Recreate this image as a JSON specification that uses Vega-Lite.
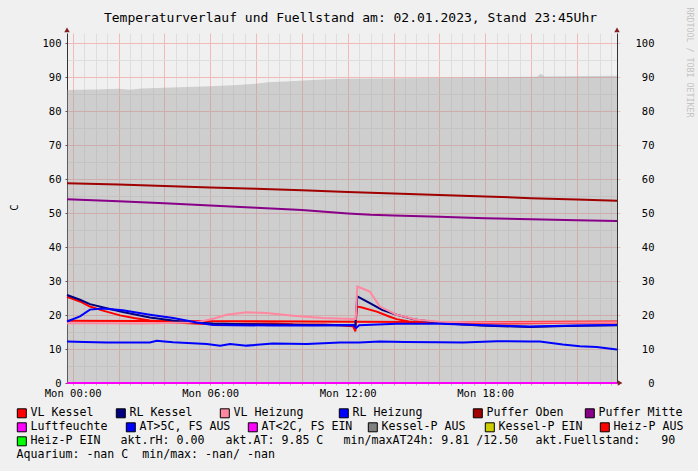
{
  "$schema": "https://vega.github.io/schema/vega-lite/v6.json",
  "width": 550,
  "height": 350,
  "autosize": "none",
  "padding": {"left": 67, "top": 33, "right": 81, "bottom": 88},
  "background": "#f0f0f0",
  "config": {
    "font": "DejaVu Sans Mono",
    "view": {"stroke": null, "fill": "#ffffff"},
    "axis": {"labelFont": "DejaVu Sans Mono", "titleFont": "DejaVu Sans Mono", "labelFontSize": 10.5, "labelColor": "#000000", "titleFontWeight": "normal", "titleColor": "#000000", "labelOverlap": false},
    "legend": {"labelFont": "DejaVu Sans Mono", "labelFontSize": 11.6, "labelColor": "#000000", "labelLimit": 400, "orient": "none", "direction": "horizontal", "padding": 0, "symbolType": "square", "symbolSize": 81, "symbolStrokeColor": "#000000", "symbolStrokeWidth": 1, "symbolOpacity": 1, "labelOffset": 3}
  },
  "datasets": {
    "fuel": [
      {"t": "2023-01-01T23:45", "v": 86.2},
      {"t": "2023-01-02T01:00", "v": 86.4},
      {"t": "2023-01-02T02:00", "v": 86.6},
      {"t": "2023-01-02T02:30", "v": 86.3},
      {"t": "2023-01-02T03:00", "v": 86.7},
      {"t": "2023-01-02T04:00", "v": 86.9},
      {"t": "2023-01-02T05:00", "v": 87.1},
      {"t": "2023-01-02T06:00", "v": 87.3},
      {"t": "2023-01-02T07:00", "v": 87.6},
      {"t": "2023-01-02T08:00", "v": 88.1},
      {"t": "2023-01-02T08:30", "v": 88.5},
      {"t": "2023-01-02T09:30", "v": 88.8},
      {"t": "2023-01-02T10:15", "v": 89.1},
      {"t": "2023-01-02T11:40", "v": 89.5},
      {"t": "2023-01-02T13:00", "v": 89.6},
      {"t": "2023-01-02T14:30", "v": 89.7},
      {"t": "2023-01-02T16:00", "v": 89.8},
      {"t": "2023-01-02T18:00", "v": 90.0},
      {"t": "2023-01-02T20:15", "v": 90.1},
      {"t": "2023-01-02T20:26", "v": 91.0},
      {"t": "2023-01-02T20:35", "v": 90.2},
      {"t": "2023-01-02T22:00", "v": 90.3},
      {"t": "2023-01-02T23:45", "v": 90.4}
    ],
    "r1": [
      {"s": "VL Kessel", "t": "2023-01-01T23:45", "v": 25.4},
      {"s": "VL Kessel", "t": "2023-01-02T00:19", "v": 24.0},
      {"s": "VL Kessel", "t": "2023-01-02T00:45", "v": 22.5},
      {"s": "VL Kessel", "t": "2023-01-02T01:19", "v": 21.3},
      {"s": "VL Kessel", "t": "2023-01-02T02:04", "v": 19.9},
      {"s": "VL Kessel", "t": "2023-01-02T02:40", "v": 19.1},
      {"s": "VL Kessel", "t": "2023-01-02T03:22", "v": 18.4},
      {"s": "VL Kessel", "t": "2023-01-02T04:23", "v": 17.8},
      {"s": "VL Kessel", "t": "2023-01-02T05:33", "v": 17.4},
      {"s": "VL Kessel", "t": "2023-01-02T06:26", "v": 17.3},
      {"s": "VL Kessel", "t": "2023-01-02T07:35", "v": 17.4},
      {"s": "VL Kessel", "t": "2023-01-02T08:44", "v": 17.5},
      {"s": "VL Kessel", "t": "2023-01-02T09:37", "v": 17.3},
      {"s": "VL Kessel", "t": "2023-01-02T10:55", "v": 17.2},
      {"s": "VL Kessel", "t": "2023-01-02T11:40", "v": 17.0},
      {"s": "VL Kessel", "t": "2023-01-02T12:14", "v": 16.7},
      {"s": "VL Kessel", "t": "2023-01-02T12:20", "v": 15.2},
      {"s": "VL Kessel", "t": "2023-01-02T12:24", "v": 22.5},
      {"s": "VL Kessel", "t": "2023-01-02T12:35", "v": 22.3},
      {"s": "VL Kessel", "t": "2023-01-02T13:16", "v": 21.0},
      {"s": "VL Kessel", "t": "2023-01-02T13:50", "v": 19.5},
      {"s": "VL Kessel", "t": "2023-01-02T14:08", "v": 18.8},
      {"s": "VL Kessel", "t": "2023-01-02T14:40", "v": 18.1},
      {"s": "VL Kessel", "t": "2023-01-02T15:35", "v": 17.8},
      {"s": "VL Kessel", "t": "2023-01-02T17:00", "v": 17.6},
      {"s": "VL Kessel", "t": "2023-01-02T18:30", "v": 17.5},
      {"s": "VL Kessel", "t": "2023-01-02T20:00", "v": 17.6},
      {"s": "VL Kessel", "t": "2023-01-02T21:30", "v": 17.7},
      {"s": "VL Kessel", "t": "2023-01-02T23:45", "v": 17.8},
      {"s": "RL Kessel", "t": "2023-01-01T23:45", "v": 25.9},
      {"s": "RL Kessel", "t": "2023-01-02T00:19", "v": 24.5},
      {"s": "RL Kessel", "t": "2023-01-02T00:45", "v": 23.2},
      {"s": "RL Kessel", "t": "2023-01-02T01:29", "v": 22.0},
      {"s": "RL Kessel", "t": "2023-01-02T02:11", "v": 20.9},
      {"s": "RL Kessel", "t": "2023-01-02T03:22", "v": 19.3},
      {"s": "RL Kessel", "t": "2023-01-02T04:41", "v": 18.1},
      {"s": "RL Kessel", "t": "2023-01-02T06:07", "v": 17.5},
      {"s": "RL Kessel", "t": "2023-01-02T07:35", "v": 17.3},
      {"s": "RL Kessel", "t": "2023-01-02T08:44", "v": 17.2},
      {"s": "RL Kessel", "t": "2023-01-02T10:13", "v": 17.1},
      {"s": "RL Kessel", "t": "2023-01-02T11:40", "v": 17.0},
      {"s": "RL Kessel", "t": "2023-01-02T12:20", "v": 17.0},
      {"s": "RL Kessel", "t": "2023-01-02T12:25", "v": 25.5},
      {"s": "RL Kessel", "t": "2023-01-02T12:58", "v": 23.5},
      {"s": "RL Kessel", "t": "2023-01-02T13:30", "v": 21.5},
      {"s": "RL Kessel", "t": "2023-01-02T14:08", "v": 20.1},
      {"s": "RL Kessel", "t": "2023-01-02T14:50", "v": 18.8},
      {"s": "RL Kessel", "t": "2023-01-02T15:35", "v": 18.1},
      {"s": "RL Kessel", "t": "2023-01-02T16:30", "v": 17.4},
      {"s": "RL Kessel", "t": "2023-01-02T17:46", "v": 16.9},
      {"s": "RL Kessel", "t": "2023-01-02T19:57", "v": 16.5},
      {"s": "RL Kessel", "t": "2023-01-02T21:30", "v": 16.8},
      {"s": "RL Kessel", "t": "2023-01-02T22:52", "v": 16.9},
      {"s": "RL Kessel", "t": "2023-01-02T23:45", "v": 17.0},
      {"s": "VL Heizung", "t": "2023-01-01T23:45", "v": 17.6},
      {"s": "VL Heizung", "t": "2023-01-02T01:00", "v": 17.6},
      {"s": "VL Heizung", "t": "2023-01-02T03:00", "v": 17.5},
      {"s": "VL Heizung", "t": "2023-01-02T05:00", "v": 17.8},
      {"s": "VL Heizung", "t": "2023-01-02T05:33", "v": 18.0},
      {"s": "VL Heizung", "t": "2023-01-02T06:10", "v": 19.0},
      {"s": "VL Heizung", "t": "2023-01-02T06:43", "v": 20.1},
      {"s": "VL Heizung", "t": "2023-01-02T07:35", "v": 20.8},
      {"s": "VL Heizung", "t": "2023-01-02T08:28", "v": 20.6},
      {"s": "VL Heizung", "t": "2023-01-02T09:37", "v": 19.8},
      {"s": "VL Heizung", "t": "2023-01-02T10:55", "v": 19.1},
      {"s": "VL Heizung", "t": "2023-01-02T12:14", "v": 18.8},
      {"s": "VL Heizung", "t": "2023-01-02T12:21", "v": 18.8},
      {"s": "VL Heizung", "t": "2023-01-02T12:25", "v": 28.4},
      {"s": "VL Heizung", "t": "2023-01-02T12:58", "v": 26.9},
      {"s": "VL Heizung", "t": "2023-01-02T13:24", "v": 22.5},
      {"s": "VL Heizung", "t": "2023-01-02T14:08", "v": 20.1},
      {"s": "VL Heizung", "t": "2023-01-02T15:01", "v": 18.6},
      {"s": "VL Heizung", "t": "2023-01-02T16:00", "v": 18.0},
      {"s": "VL Heizung", "t": "2023-01-02T18:00", "v": 17.8},
      {"s": "VL Heizung", "t": "2023-01-02T21:00", "v": 17.8},
      {"s": "VL Heizung", "t": "2023-01-02T23:45", "v": 17.9},
      {"s": "RL Heizung", "t": "2023-01-01T23:45", "v": 18.1},
      {"s": "RL Heizung", "t": "2023-01-02T00:19", "v": 19.6},
      {"s": "RL Heizung", "t": "2023-01-02T00:45", "v": 21.6},
      {"s": "RL Heizung", "t": "2023-01-02T01:19", "v": 21.9},
      {"s": "RL Heizung", "t": "2023-01-02T02:11", "v": 21.4},
      {"s": "RL Heizung", "t": "2023-01-02T03:22", "v": 20.1},
      {"s": "RL Heizung", "t": "2023-01-02T04:23", "v": 19.1},
      {"s": "RL Heizung", "t": "2023-01-02T05:25", "v": 17.8},
      {"s": "RL Heizung", "t": "2023-01-02T06:07", "v": 17.1},
      {"s": "RL Heizung", "t": "2023-01-02T08:44", "v": 16.9},
      {"s": "RL Heizung", "t": "2023-01-02T10:30", "v": 16.9},
      {"s": "RL Heizung", "t": "2023-01-02T12:14", "v": 17.1},
      {"s": "RL Heizung", "t": "2023-01-02T12:22", "v": 16.2},
      {"s": "RL Heizung", "t": "2023-01-02T12:30", "v": 17.0},
      {"s": "RL Heizung", "t": "2023-01-02T14:08", "v": 17.4},
      {"s": "RL Heizung", "t": "2023-01-02T16:00", "v": 17.4},
      {"s": "RL Heizung", "t": "2023-01-02T18:00", "v": 17.0},
      {"s": "RL Heizung", "t": "2023-01-02T19:57", "v": 16.6},
      {"s": "RL Heizung", "t": "2023-01-02T22:00", "v": 16.9},
      {"s": "RL Heizung", "t": "2023-01-02T23:45", "v": 17.1},
      {"s": "Puffer Oben", "t": "2023-01-01T23:45", "v": 58.8},
      {"s": "Puffer Oben", "t": "2023-01-02T02:00", "v": 58.4},
      {"s": "Puffer Oben", "t": "2023-01-02T04:00", "v": 58.0},
      {"s": "Puffer Oben", "t": "2023-01-02T06:00", "v": 57.5},
      {"s": "Puffer Oben", "t": "2023-01-02T08:00", "v": 57.2},
      {"s": "Puffer Oben", "t": "2023-01-02T10:00", "v": 56.7},
      {"s": "Puffer Oben", "t": "2023-01-02T12:00", "v": 56.2},
      {"s": "Puffer Oben", "t": "2023-01-02T14:00", "v": 55.8},
      {"s": "Puffer Oben", "t": "2023-01-02T16:00", "v": 55.3},
      {"s": "Puffer Oben", "t": "2023-01-02T18:00", "v": 54.9},
      {"s": "Puffer Oben", "t": "2023-01-02T20:00", "v": 54.4},
      {"s": "Puffer Oben", "t": "2023-01-02T22:00", "v": 54.0},
      {"s": "Puffer Oben", "t": "2023-01-02T23:45", "v": 53.6},
      {"s": "Puffer Mitte", "t": "2023-01-01T23:45", "v": 54.1},
      {"s": "Puffer Mitte", "t": "2023-01-02T02:00", "v": 53.5},
      {"s": "Puffer Mitte", "t": "2023-01-02T04:00", "v": 52.9},
      {"s": "Puffer Mitte", "t": "2023-01-02T06:00", "v": 52.2},
      {"s": "Puffer Mitte", "t": "2023-01-02T08:00", "v": 51.6},
      {"s": "Puffer Mitte", "t": "2023-01-02T10:00", "v": 50.9},
      {"s": "Puffer Mitte", "t": "2023-01-02T12:00", "v": 49.9},
      {"s": "Puffer Mitte", "t": "2023-01-02T13:00", "v": 49.5},
      {"s": "Puffer Mitte", "t": "2023-01-02T14:00", "v": 49.3},
      {"s": "Puffer Mitte", "t": "2023-01-02T16:00", "v": 48.9},
      {"s": "Puffer Mitte", "t": "2023-01-02T18:00", "v": 48.5},
      {"s": "Puffer Mitte", "t": "2023-01-02T20:00", "v": 48.2},
      {"s": "Puffer Mitte", "t": "2023-01-02T22:00", "v": 47.9},
      {"s": "Puffer Mitte", "t": "2023-01-02T23:45", "v": 47.7}
    ],
    "r2": [
      {"s": "Luftfeuchte", "t": "2023-01-01T23:45", "v": 0},
      {"s": "Luftfeuchte", "t": "2023-01-02T23:45", "v": 0},
      {"s": "AT>5C, FS AUS", "t": "2023-01-01T23:45", "v": 12.2},
      {"s": "AT>5C, FS AUS", "t": "2023-01-02T00:30", "v": 12.1},
      {"s": "AT>5C, FS AUS", "t": "2023-01-02T01:29", "v": 11.95},
      {"s": "AT>5C, FS AUS", "t": "2023-01-02T02:30", "v": 11.9},
      {"s": "AT>5C, FS AUS", "t": "2023-01-02T03:22", "v": 11.9},
      {"s": "AT>5C, FS AUS", "t": "2023-01-02T03:40", "v": 12.4},
      {"s": "AT>5C, FS AUS", "t": "2023-01-02T04:00", "v": 12.2},
      {"s": "AT>5C, FS AUS", "t": "2023-01-02T04:23", "v": 12.0},
      {"s": "AT>5C, FS AUS", "t": "2023-01-02T05:51", "v": 11.5},
      {"s": "AT>5C, FS AUS", "t": "2023-01-02T06:26", "v": 11.0},
      {"s": "AT>5C, FS AUS", "t": "2023-01-02T06:52", "v": 11.5},
      {"s": "AT>5C, FS AUS", "t": "2023-01-02T07:35", "v": 11.0},
      {"s": "AT>5C, FS AUS", "t": "2023-01-02T08:44", "v": 11.6},
      {"s": "AT>5C, FS AUS", "t": "2023-01-02T10:13", "v": 11.5},
      {"s": "AT>5C, FS AUS", "t": "2023-01-02T11:40", "v": 11.9},
      {"s": "AT>5C, FS AUS", "t": "2023-01-02T12:30", "v": 11.9},
      {"s": "AT>5C, FS AUS", "t": "2023-01-02T13:24", "v": 12.2},
      {"s": "AT>5C, FS AUS", "t": "2023-01-02T14:30", "v": 12.1},
      {"s": "AT>5C, FS AUS", "t": "2023-01-02T16:00", "v": 12.0},
      {"s": "AT>5C, FS AUS", "t": "2023-01-02T17:02", "v": 11.9},
      {"s": "AT>5C, FS AUS", "t": "2023-01-02T18:30", "v": 12.3},
      {"s": "AT>5C, FS AUS", "t": "2023-01-02T19:57", "v": 12.2},
      {"s": "AT>5C, FS AUS", "t": "2023-01-02T20:23", "v": 12.2},
      {"s": "AT>5C, FS AUS", "t": "2023-01-02T21:23", "v": 11.3},
      {"s": "AT>5C, FS AUS", "t": "2023-01-02T22:08", "v": 10.8},
      {"s": "AT>5C, FS AUS", "t": "2023-01-02T22:52", "v": 10.6},
      {"s": "AT>5C, FS AUS", "t": "2023-01-02T23:34", "v": 10.0},
      {"s": "AT>5C, FS AUS", "t": "2023-01-02T23:45", "v": 9.85},
      {"s": "Heiz-P AUS", "t": "2023-01-01T23:45", "v": 18.3},
      {"s": "Heiz-P AUS", "t": "2023-01-02T06:00", "v": 18.2},
      {"s": "Heiz-P AUS", "t": "2023-01-02T12:20", "v": 18.0},
      {"s": "Heiz-P AUS", "t": "2023-01-02T18:00", "v": 17.9},
      {"s": "Heiz-P AUS", "t": "2023-01-02T23:45", "v": 18.1}
    ]
  },
  "layer": [
    {
      "data": {"name": "fuel"},
      "mark": {"type": "area", "color": "#9a9a9a", "opacity": 0.4},
      "encoding": {
        "x": {
          "field": "t", "type": "temporal",
          "scale": {"domain": [{"year": 2023, "month": 1, "date": 1, "hours": 23, "minutes": 45}, {"year": 2023, "month": 1, "date": 2, "hours": 23, "minutes": 45}]},
          "axis": {
            "orient": "bottom", "title": null, "grid": true, "gridColor": "#dedede",
            "labels": false, "ticks": true, "tickSize": 2, "tickColor": "#b8b8b8", "domain": false, "maxExtent": 0, "minExtent": 0,
            "values": [
              {"year": 2023, "month": 1, "date": 2, "hours": 0, "minutes": 30},
              {"year": 2023, "month": 1, "date": 2, "hours": 1, "minutes": 0},
              {"year": 2023, "month": 1, "date": 2, "hours": 1, "minutes": 30},
              {"year": 2023, "month": 1, "date": 2, "hours": 2, "minutes": 30},
              {"year": 2023, "month": 1, "date": 2, "hours": 3, "minutes": 0},
              {"year": 2023, "month": 1, "date": 2, "hours": 3, "minutes": 30},
              {"year": 2023, "month": 1, "date": 2, "hours": 4, "minutes": 30},
              {"year": 2023, "month": 1, "date": 2, "hours": 5, "minutes": 0},
              {"year": 2023, "month": 1, "date": 2, "hours": 5, "minutes": 30},
              {"year": 2023, "month": 1, "date": 2, "hours": 6, "minutes": 30},
              {"year": 2023, "month": 1, "date": 2, "hours": 7, "minutes": 0},
              {"year": 2023, "month": 1, "date": 2, "hours": 7, "minutes": 30},
              {"year": 2023, "month": 1, "date": 2, "hours": 8, "minutes": 30},
              {"year": 2023, "month": 1, "date": 2, "hours": 9, "minutes": 0},
              {"year": 2023, "month": 1, "date": 2, "hours": 9, "minutes": 30},
              {"year": 2023, "month": 1, "date": 2, "hours": 10, "minutes": 30},
              {"year": 2023, "month": 1, "date": 2, "hours": 11, "minutes": 0},
              {"year": 2023, "month": 1, "date": 2, "hours": 11, "minutes": 30},
              {"year": 2023, "month": 1, "date": 2, "hours": 12, "minutes": 30},
              {"year": 2023, "month": 1, "date": 2, "hours": 13, "minutes": 0},
              {"year": 2023, "month": 1, "date": 2, "hours": 13, "minutes": 30},
              {"year": 2023, "month": 1, "date": 2, "hours": 14, "minutes": 30},
              {"year": 2023, "month": 1, "date": 2, "hours": 15, "minutes": 0},
              {"year": 2023, "month": 1, "date": 2, "hours": 15, "minutes": 30},
              {"year": 2023, "month": 1, "date": 2, "hours": 16, "minutes": 30},
              {"year": 2023, "month": 1, "date": 2, "hours": 17, "minutes": 0},
              {"year": 2023, "month": 1, "date": 2, "hours": 17, "minutes": 30},
              {"year": 2023, "month": 1, "date": 2, "hours": 18, "minutes": 30},
              {"year": 2023, "month": 1, "date": 2, "hours": 19, "minutes": 0},
              {"year": 2023, "month": 1, "date": 2, "hours": 19, "minutes": 30},
              {"year": 2023, "month": 1, "date": 2, "hours": 20, "minutes": 30},
              {"year": 2023, "month": 1, "date": 2, "hours": 21, "minutes": 0},
              {"year": 2023, "month": 1, "date": 2, "hours": 21, "minutes": 30},
              {"year": 2023, "month": 1, "date": 2, "hours": 22, "minutes": 30},
              {"year": 2023, "month": 1, "date": 2, "hours": 23, "minutes": 0},
              {"year": 2023, "month": 1, "date": 2, "hours": 23, "minutes": 30}
            ]
          }
        },
        "y": {
          "field": "v", "type": "quantitative",
          "scale": {"domain": [0, 103], "nice": false},
          "axis": {
            "orient": "left", "grid": true, "gridColor": "#dedede",
            "values": [5, 15, 25, 35, 45, 55, 65, 75, 85, 95],
            "labels": false, "ticks": false, "domain": false, "title": null, "maxExtent": 0, "minExtent": 0
          }
        }
      }
    },
    {
      "data": {"name": "r2"},
      "mark": {"type": "line", "strokeWidth": 2},
      "encoding": {
        "x": {"field": "t", "type": "temporal", "axis": {
          "orient": "bottom", "title": null, "grid": true, "gridColor": "#f2b9b9",
          "values": [
            {"year": 2023, "month": 1, "date": 2, "hours": 0, "minutes": 0},
            {"year": 2023, "month": 1, "date": 2, "hours": 2, "minutes": 0},
            {"year": 2023, "month": 1, "date": 2, "hours": 4, "minutes": 0},
            {"year": 2023, "month": 1, "date": 2, "hours": 6, "minutes": 0},
            {"year": 2023, "month": 1, "date": 2, "hours": 8, "minutes": 0},
            {"year": 2023, "month": 1, "date": 2, "hours": 10, "minutes": 0},
            {"year": 2023, "month": 1, "date": 2, "hours": 12, "minutes": 0},
            {"year": 2023, "month": 1, "date": 2, "hours": 14, "minutes": 0},
            {"year": 2023, "month": 1, "date": 2, "hours": 16, "minutes": 0},
            {"year": 2023, "month": 1, "date": 2, "hours": 18, "minutes": 0},
            {"year": 2023, "month": 1, "date": 2, "hours": 20, "minutes": 0},
            {"year": 2023, "month": 1, "date": 2, "hours": 22, "minutes": 0}
          ],
          "labelExpr": "hours(datum.value) % 6 === 0 ? timeFormat(datum.value, '%a %H:%M') : ''",
          "labelFlush": false, "labelAngle": 0, "labelPadding": 3,
          "tickSize": 2, "tickColor": "#e09090", "domainColor": "#333333"
        }},
        "y": {"field": "v", "type": "quantitative", "axis": {
          "orient": "left", "grid": true, "gridColor": "#f2b9b9",
          "values": [0, 10, 20, 30, 40, 50, 60, 70, 80, 90, 100],
          "labelPadding": 4, "tickSize": 2, "tickColor": "#555555", "domainColor": "#333333",
          "title": "C", "titleX": -53, "titleY": 174, "titleAlign": "center", "titleBaseline": "middle", "titleFontSize": 10.5
        }},
        "color": {"field": "s", "type": "nominal", "scale": {"domain": ["Luftfeuchte", "AT>5C, FS AUS", "Heiz-P AUS"], "range": ["#ff00ff", "#0000ff", "#ff0000"]}, "legend": null}
      }
    },
    {
      "data": {"name": "r1"},
      "mark": {"type": "line", "strokeWidth": 2},
      "encoding": {
        "x": {"field": "t", "type": "temporal", "axis": {"orient": "top", "domain": false, "ticks": false, "labels": false, "grid": false, "title": "Temperaturverlauf und Fuellstand am: 02.01.2023, Stand 23:45Uhr", "titleX": 283, "titleY": -11.5, "titleAlign": "center", "titleBaseline": "alphabetic", "titleFontSize": 13}},
        "y": {"field": "v", "type": "quantitative", "axis": {
          "orient": "right", "grid": false,
          "values": [0, 10, 20, 30, 40, 50, 60, 70, 80, 90, 100],
          "labelAlign": "right", "labelPadding": 34, "tickSize": 3,
          "tickColor": "#e4c4c4",
          "domainColor": "#333333",
          "title": "RRDTOOL / TOBI OETIKER", "titleAngle": 90, "titleX": 71, "titleY": -26, "titleAlign": "left", "titleBaseline": "middle", "titleFontSize": 8.3, "titleColor": "#c4c4c4"
        }},
        "color": {"field": "s", "type": "nominal", "scale": {"domain": ["VL Kessel", "RL Kessel", "VL Heizung", "RL Heizung", "Puffer Oben", "Puffer Mitte"], "range": ["#ff0000", "#000080", "#ff88a0", "#0000ff", "#a00000", "#880088"]}, "legend": null}
      }
    },
    {"data": {"values": [{"s": "VL Kessel"}]}, "mark": {"type": "point", "shape": "square", "filled": true, "opacity": 0},
      "encoding": {"color": {"field": "s", "type": "nominal", "scale": {"range": ["#ff0000"]}, "legend": {"orient": "none", "title": null, "legendX": -51, "legendY": 374.5}}}},
    {"data": {"values": [{"s": "RL Kessel"}]}, "mark": {"type": "point", "shape": "square", "filled": true, "opacity": 0},
      "encoding": {"color": {"field": "s", "type": "nominal", "scale": {"range": ["#000080"]}, "legend": {"orient": "none", "title": null, "legendX": 48, "legendY": 374.5}}}},
    {"data": {"values": [{"s": "VL Heizung"}]}, "mark": {"type": "point", "shape": "square", "filled": true, "opacity": 0},
      "encoding": {"color": {"field": "s", "type": "nominal", "scale": {"range": ["#ff88a0"]}, "legend": {"orient": "none", "title": null, "legendX": 152, "legendY": 374.5}}}},
    {"data": {"values": [{"s": "RL Heizung"}]}, "mark": {"type": "point", "shape": "square", "filled": true, "opacity": 0},
      "encoding": {"color": {"field": "s", "type": "nominal", "scale": {"range": ["#0000ff"]}, "legend": {"orient": "none", "title": null, "legendX": 271, "legendY": 374.5}}}},
    {"data": {"values": [{"s": "Puffer Oben"}]}, "mark": {"type": "point", "shape": "square", "filled": true, "opacity": 0},
      "encoding": {"color": {"field": "s", "type": "nominal", "scale": {"range": ["#a00000"]}, "legend": {"orient": "none", "title": null, "legendX": 405, "legendY": 374.5}}}},
    {"data": {"values": [{"s": "Puffer Mitte"}]}, "mark": {"type": "point", "shape": "square", "filled": true, "opacity": 0},
      "encoding": {"color": {"field": "s", "type": "nominal", "scale": {"range": ["#880088"]}, "legend": {"orient": "none", "title": null, "legendX": 517, "legendY": 374.5}}}},
    {"data": {"values": [{"s": "Luftfeuchte"}]}, "mark": {"type": "point", "shape": "square", "filled": true, "opacity": 0},
      "encoding": {"color": {"field": "s", "type": "nominal", "scale": {"range": ["#ff00ff"]}, "legend": {"orient": "none", "title": null, "legendX": -51, "legendY": 388.5}}}},
    {"data": {"values": [{"s": "AT>5C, FS AUS"}]}, "mark": {"type": "point", "shape": "square", "filled": true, "opacity": 0},
      "encoding": {"color": {"field": "s", "type": "nominal", "scale": {"range": ["#0000ff"]}, "legend": {"orient": "none", "title": null, "legendX": 58, "legendY": 388.5}}}},
    {"data": {"values": [{"s": "AT<2C, FS EIN"}]}, "mark": {"type": "point", "shape": "square", "filled": true, "opacity": 0},
      "encoding": {"color": {"field": "s", "type": "nominal", "scale": {"range": ["#ff00ff"]}, "legend": {"orient": "none", "title": null, "legendX": 180, "legendY": 388.5}}}},
    {"data": {"values": [{"s": "Kessel-P AUS"}]}, "mark": {"type": "point", "shape": "square", "filled": true, "opacity": 0},
      "encoding": {"color": {"field": "s", "type": "nominal", "scale": {"range": ["#808080"]}, "legend": {"orient": "none", "title": null, "legendX": 300, "legendY": 388.5}}}},
    {"data": {"values": [{"s": "Kessel-P EIN"}]}, "mark": {"type": "point", "shape": "square", "filled": true, "opacity": 0},
      "encoding": {"color": {"field": "s", "type": "nominal", "scale": {"range": ["#cccc00"]}, "legend": {"orient": "none", "title": null, "legendX": 417, "legendY": 388.5}}}},
    {"data": {"values": [{"s": "Heiz-P AUS"}]}, "mark": {"type": "point", "shape": "square", "filled": true, "opacity": 0},
      "encoding": {"color": {"field": "s", "type": "nominal", "scale": {"range": ["#ff0000"]}, "legend": {"orient": "none", "title": null, "legendX": 532, "legendY": 388.5}}}},
    {"data": {"values": [{"s": "Heiz-P EIN"}]}, "mark": {"type": "point", "shape": "square", "filled": true, "opacity": 0},
      "encoding": {"color": {"field": "s", "type": "nominal", "scale": {"range": ["#00ff00"]}, "legend": {"orient": "none", "title": null, "legendX": -51, "legendY": 402.5}}}},
    {"data": {"values": [{"s": "akt.rH: 0.00"}]}, "mark": {"type": "point", "shape": "square", "filled": true, "opacity": 0},
      "encoding": {"color": {"field": "s", "type": "nominal", "scale": {"range": ["transparent"]}, "legend": {"orient": "none", "title": null, "symbolStrokeColor": "transparent", "legendX": 39, "legendY": 402.5}}}},
    {"data": {"values": [{"s": "akt.AT: 9.85 C"}]}, "mark": {"type": "point", "shape": "square", "filled": true, "opacity": 0},
      "encoding": {"color": {"field": "s", "type": "nominal", "scale": {"range": ["transparent"]}, "legend": {"orient": "none", "title": null, "symbolStrokeColor": "transparent", "legendX": 144, "legendY": 402.5}}}},
    {"data": {"values": [{"s": "min/maxAT24h: 9.81 /12.50"}]}, "mark": {"type": "point", "shape": "square", "filled": true, "opacity": 0},
      "encoding": {"color": {"field": "s", "type": "nominal", "scale": {"range": ["transparent"]}, "legend": {"orient": "none", "title": null, "symbolStrokeColor": "transparent", "legendX": 262, "legendY": 402.5}}}},
    {"data": {"values": [{"s": "akt.Fuellstand:\u00a0\u00a0\u00a090"}]}, "mark": {"type": "point", "shape": "square", "filled": true, "opacity": 0},
      "encoding": {"color": {"field": "s", "type": "nominal", "scale": {"range": ["transparent"]}, "legend": {"orient": "none", "title": null, "symbolStrokeColor": "transparent", "legendX": 454, "legendY": 402.5}}}},
    {"data": {"values": [{"s": "Aquarium: -nan C\u00a0\u00a0min/max: -nan/ -nan"}]}, "mark": {"type": "point", "shape": "square", "filled": true, "opacity": 0},
      "encoding": {"color": {"field": "s", "type": "nominal", "scale": {"range": ["transparent"]}, "legend": {"orient": "none", "title": null, "symbolStrokeColor": "transparent", "legendX": -65, "legendY": 416.5}}}},
    {"data": {"values": [{}]}, "mark": {"type": "point", "shape": "triangle-up", "filled": true, "color": "#801f1f", "size": 30, "opacity": 1},
      "encoding": {"x": {"datum": {"year": 2023, "month": 1, "date": 1, "hours": 23, "minutes": 45}, "type": "temporal", "axis": null}, "y": {"datum": 103.9, "type": "quantitative", "axis": null}}},
    {"data": {"values": [{}]}, "mark": {"type": "point", "shape": "triangle-up", "filled": true, "color": "#801f1f", "size": 30, "opacity": 1},
      "encoding": {"x": {"datum": {"year": 2023, "month": 1, "date": 2, "hours": 23, "minutes": 45}, "type": "temporal", "axis": null}, "y": {"datum": 103.9, "type": "quantitative", "axis": null}}},
    {"data": {"values": [{}]}, "mark": {"type": "point", "shape": "triangle-right", "filled": true, "color": "#801f1f", "size": 30, "opacity": 1},
      "encoding": {"x": {"datum": {"year": 2023, "month": 1, "date": 2, "hours": 23, "minutes": 53}, "type": "temporal", "axis": null}, "y": {"datum": 0, "type": "quantitative", "axis": null}}}
  ],
  "resolve": {"scale": {"color": "independent"}, "axis": {"x": "independent", "y": "independent"}}
}
